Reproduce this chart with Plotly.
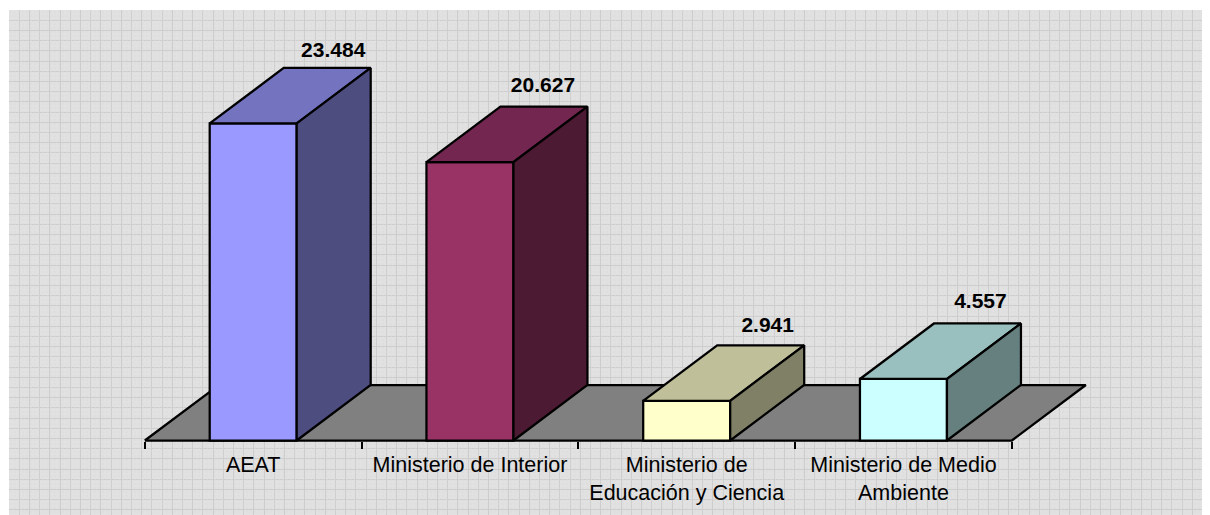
import plotly.graph_objects as go

# Data
categories = ["AEAT", "Ministerio de Interior", "Ministerio de<br>Educación y Ciencia", "Ministerio de Medio<br>Ambiente"]
values = [23484, 20627, 2941, 4557]
value_labels = ["23.484", "20.627", "2.941", "4.557"]
front_colors = ["#9999FF", "#993366", "#FFFFCC", "#CCFFFF"]
top_colors = ["#7373BF", "#732650", "#BFBF99", "#99BFBF"]
side_colors = ["#4D4D80", "#4D1A33", "#808066", "#668080"]

# Geometry / scales (figure coordinates: the page adds an 8 px body margin)
W, H = 1202, 507
LEFT, TOP = 1, 2
PX_PER_CAT = 216.75
CAT0_PX = 245.2
PX_PER_VAL = 0.0135
BASE_PX = 432.5
DEPTH_X = 74 / PX_PER_CAT
DEPTH_Y = 55.5 / PX_PER_VAL
BAR_W = 87 / PX_PER_CAT
LW = 2.25
label_dx = [80 / PX_PER_CAT, 73 / PX_PER_CAT, 81 / PX_PER_CAT, 77 / PX_PER_CAT]
label_dy = [6 / PX_PER_VAL, 9 / PX_PER_VAL, 8 / PX_PER_VAL, 10 / PX_PER_VAL]

xrange_data = [(LEFT - CAT0_PX) / PX_PER_CAT, (W - CAT0_PX) / PX_PER_CAT]
yrange_data = [(BASE_PX - H) / PX_PER_VAL, (BASE_PX - TOP) / PX_PER_VAL]
base_pos = (H - BASE_PX) / (H - TOP)

fig = go.Figure()

# Background texture on the pixel-grid subplot
fig.add_trace(go.Scatter(
    x=[LEFT, W, W, LEFT, LEFT], y=[H, H, TOP, TOP, H], xaxis="x", yaxis="y",
    mode="lines", line=dict(width=0), fill="toself", fillcolor="rgba(0,0,0,0)",
    fillpattern=dict(shape=".", size=4, solidity=0.2, fgcolor="#DADADA", bgcolor="rgba(0,0,0,0)"),
    hoverinfo="skip", showlegend=False))

# Floor
x0, x1 = -0.5, len(categories) - 0.5
fig.add_trace(go.Scatter(
    x=[x0, x0 + DEPTH_X, x1 + DEPTH_X, x1, x0], y=[0, DEPTH_Y, DEPTH_Y, 0, 0],
    xaxis="x2", yaxis="y2", mode="lines", fill="toself", fillcolor="#808080",
    line=dict(color="#000000", width=LW), hoverinfo="skip", showlegend=False))

# Front faces
fig.add_trace(go.Bar(
    x=list(range(len(categories))), y=values, width=BAR_W, xaxis="x3", yaxis="y3",
    marker=dict(color=front_colors, line=dict(color="#000000", width=LW)),
    showlegend=False, hoverinfo="skip"))

# Top and side faces
for i, v in enumerate(values):
    l, r = i - BAR_W / 2, i + BAR_W / 2
    fig.add_trace(go.Scatter(
        x=[l, l + DEPTH_X, r + DEPTH_X, r, l], y=[v, v + DEPTH_Y, v + DEPTH_Y, v, v],
        xaxis="x3", yaxis="y3", mode="lines", fill="toself", fillcolor=top_colors[i],
        line=dict(color="#000000", width=LW), hoverinfo="skip", showlegend=False))
    fig.add_trace(go.Scatter(
        x=[r, r + DEPTH_X, r + DEPTH_X, r, r], y=[0, DEPTH_Y, v + DEPTH_Y, v, 0],
        xaxis="x3", yaxis="y3", mode="lines", fill="toself", fillcolor=side_colors[i],
        line=dict(color="#000000", width=LW), hoverinfo="skip", showlegend=False))

# Value labels
fig.add_trace(go.Scatter(
    x=[i + label_dx[i] for i in range(len(values))],
    y=[v + DEPTH_Y + label_dy[i] for i, v in enumerate(values)],
    text=value_labels, mode="text", textposition="top center",
    textfont=dict(family="Liberation Sans", size=21, color="#000000", weight="bold"),
    xaxis="x3", yaxis="y3", hoverinfo="skip", showlegend=False))

grid = dict(showgrid=True, gridcolor="#CDCDCD", gridwidth=1, dtick=10.2, zeroline=False,
            showticklabels=False, ticks="", showline=False, fixedrange=True)

fig.update_layout(
    width=W, height=H, autosize=False,
    margin=dict(l=LEFT, r=0, t=TOP, b=0, pad=0),
    paper_bgcolor="#FFFFFF", plot_bgcolor="#E1E1E1",
    showlegend=False,
    font=dict(family="Liberation Sans", size=21.5, color="#000000"),
    xaxis=dict(range=[LEFT, W], tick0=LEFT, **grid),
    yaxis=dict(range=[H, TOP], tick0=TOP, **grid),
    xaxis2=dict(range=xrange_data, overlaying="x", anchor="free", position=base_pos,
                tickmode="array", tickvals=[i - 0.5 for i in range(len(categories) + 1)],
                ticktext=[""] * (len(categories) + 1), ticks="outside", ticklen=7, tickwidth=2,
                tickcolor="#000000", showline=False,
                showgrid=False, zeroline=False),
    yaxis2=dict(range=yrange_data, overlaying="y", visible=False),
    xaxis3=dict(range=xrange_data, overlaying="x", anchor="free", position=base_pos,
                tickmode="array", tickvals=list(range(len(categories))), ticktext=categories,
                ticks="outside", ticklen=5, tickcolor="rgba(0,0,0,0)", showline=False,
                showgrid=False, zeroline=False, tickangle=0,
                tickfont=dict(family="Liberation Sans", size=21.5, color="#000000")),
    yaxis3=dict(range=yrange_data, overlaying="y", visible=False),
)

fig.write_html("out.html")
